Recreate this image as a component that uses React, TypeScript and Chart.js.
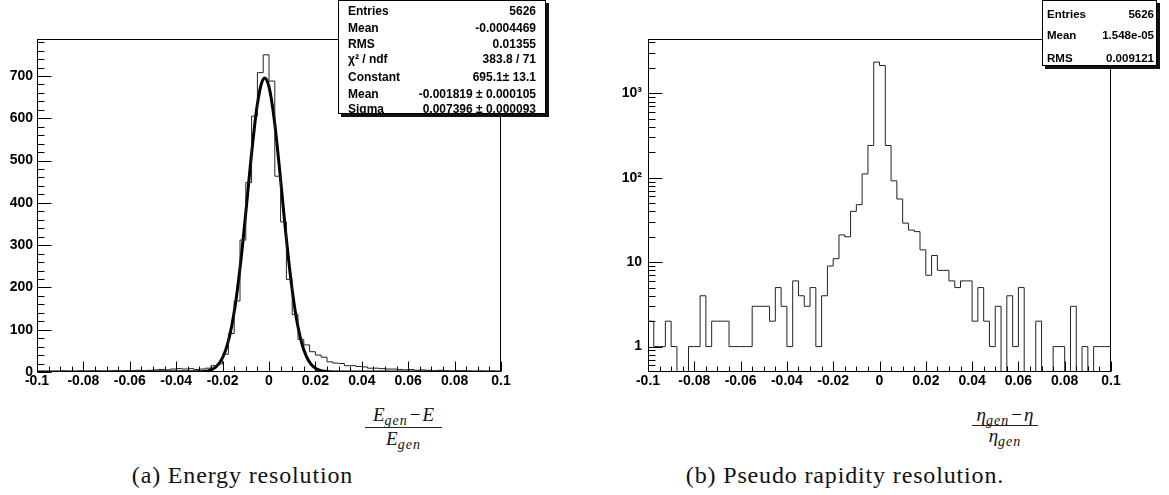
import React, { useEffect, useRef } from "react";
import { Chart, registerables } from "chart.js";

Chart.register(...registerables);

// ---------------- data ----------------
const binLow = -0.1;
const binWidth = 0.0025;

// (a) (E_gen - E)/E_gen, 80 bins in [-0.1, 0.1]
const energyCounts = [
  1, 0, 1, 1, 2, 1, 1, 2, 1, 2,
  2, 1, 2, 3, 2, 3, 3, 4, 3, 4,
  5, 6, 5, 7, 8, 7, 8, 6, 7, 9,
  15, 19, 42, 91, 168, 312, 448, 605, 708, 750,
  688, 463, 355, 219, 136, 77, 64, 48, 40, 35,
  24, 21, 20, 15, 15, 13, 12, 9, 9, 8,
  7, 7, 6, 5, 6, 4, 5, 4, 3, 4,
  3, 2, 3, 3, 2, 1, 2, 1, 2, 1,
];

// (b) (eta_gen - eta)/eta_gen, 80 bins in [-0.1, 0.1]
const etaCounts = [
  2, 1, 1, 2, 1, 0, 0, 1, 1, 4,
  1, 2, 2, 2, 1, 1, 1, 1, 3, 3,
  3, 2, 5, 3, 1, 6, 4, 3, 5, 1,
  4, 9, 11, 21, 20, 40, 48, 111, 241, 2344,
  2137, 241, 92, 56, 29, 24, 23, 14, 7, 12,
  8, 8, 6, 5, 6, 6, 2, 5, 2, 1,
  3, 0, 4, 1, 5, 0, 0, 2, 0, 0,
  1, 1, 0, 3, 0, 1, 0, 1, 1, 1,
];

// Gaussian fit curve
const fitX = [
  -0.1, -0.03, -0.028, -0.026, -0.024, -0.022, -0.02, -0.018, -0.016, -0.014,
  -0.012, -0.011, -0.01, -0.009, -0.008, -0.007, -0.006, -0.005, -0.004, -0.003,
  -0.001819, -0.001, 0, 0.001, 0.002, 0.003, 0.004, 0.005, 0.006, 0.007,
  0.008, 0.009, 0.01, 0.011, 0.012, 0.014, 0.016, 0.018, 0.02, 0.022,
  0.024, 0.026, 0.03, 0.1,
];
const fitY = [
  0, 0.5, 1.3, 3.3, 7.7, 16.8, 33.9, 63.5, 110.6, 179.1,
  269.5, 321.7, 377.0, 433.9, 490.2, 543.9, 592.5, 633.7, 665.5, 686.3,
  695.1, 690.9, 674.4, 646.4, 608.3, 562.2, 510.1, 454.5, 397.5, 341.4,
  288.0, 238.4, 193.9, 154.8, 121.3, 70.6, 38.2, 19.2, 9.0, 3.9,
  1.6, 0.6, 0.1, 0,
];

const xTickValues = [-0.1, -0.08, -0.06, -0.04, -0.02, 0, 0.02, 0.04, 0.06, 0.08, 0.1];
const xTickLabels = ["-0.1", "-0.08", "-0.06", "-0.04", "-0.02", "0", "0.02", "0.04", "0.06", "0.08", "0.1"];

const energyYTicks = [0, 100, 200, 300, 400, 500, 600, 700];
const energyYLabels = ["0", "100", "200", "300", "400", "500", "600", "700"];
const energyYMax = 787.5;

const etaYTicks = [1, 10, 100, 1000];
const etaYLabels = ["1", "10", "10\u00B2", "10\u00B3"];
const etaYMin = 0.5;
const etaYMax = 4400;

const energyStatLabels = ["Entries", "Mean", "RMS", "\u03C7\u00B2 / ndf", "Constant", "Mean", "Sigma"];
const energyStatValues = ["5626", "-0.0004469", "0.01355", "383.8 / 71", "695.1\u00B1 13.1", "-0.001819 \u00B1 0.000105", "0.007396 \u00B1 0.000093"];
const etaStatLabels = ["Entries", "Mean", "RMS"];
const etaStatValues = ["5626", "1.548e-05", "0.009121"];

// ---------------- helpers ----------------
const tickFont = { family: "'Liberation Sans', Arial, sans-serif", size: 14, weight: "bold" as const };

function histPoints(counts: number[], floor: number | null) {
  const pts = counts.map((c, i) => ({
    x: binLow + i * binWidth,
    y: floor === null ? c : Math.max(c, floor),
  }));
  const last = pts[pts.length - 1].y;
  pts.push({ x: binLow + counts.length * binWidth, y: last });
  return pts;
}

const linearMinor: number[] = [];
for (let v = 20; v < energyYMax; v += 20) if (v % 100 !== 0) linearMinor.push(v);
const logMinor: number[] = [];
for (let d = -1; d <= 3; d++) {
  for (let k = 2; k <= 9; k++) {
    const v = k * Math.pow(10, d);
    if (v > etaYMin && v < etaYMax) logMinor.push(v);
  }
}

const rootAxesPlugin = {
  id: "rootAxes",
  afterDatasetsDraw(chart: any, _args: any, opts: any) {
    const { ctx, chartArea: a, scales } = chart;
    const xs = scales.x;
    const ys = scales.y;
    const L = Math.round(a.left) + 0.5;
    const R = Math.round(a.right) - 0.5;
    const T = Math.round(a.top) + 0.5;
    const B = Math.round(a.bottom) - 0.5;
    ctx.save();
    ctx.strokeStyle = "#000";
    ctx.lineWidth = 1;
    ctx.strokeRect(L, T, R - L, B - T);
    ctx.beginPath();
    for (let i = 0; i <= 40; i++) {
      const v = binLow + i * 0.005;
      const px = Math.round(xs.getPixelForValue(v)) + 0.5;
      const len = i % 4 === 0 ? 10 : 5;
      ctx.moveTo(px, B);
      ctx.lineTo(px, B - len);
    }
    for (const v of opts.yMajor) {
      const py = Math.round(ys.getPixelForValue(v)) + 0.5;
      ctx.moveTo(L, py);
      ctx.lineTo(L + 14, py);
    }
    for (const v of opts.yMinor) {
      const py = Math.round(ys.getPixelForValue(v)) + 0.5;
      ctx.moveTo(L, py);
      ctx.lineTo(L + 7, py);
    }
    ctx.stroke();
    ctx.restore();
  },
};

function makeConfig(opts: {
  datasets: any[];
  yScale: any;
  yTicks: number[];
  yLabels: string[];
  yWidth: number;
  yPad: number;
  padRight: number;
  yMinor: number[];
}) {
  return {
    type: "line" as const,
    data: { datasets: opts.datasets },
    plugins: [rootAxesPlugin],
    options: {
      animation: false as const,
      responsive: false,
      maintainAspectRatio: false,
      devicePixelRatio: 1,
      layout: { padding: { left: 0, top: 39, right: opts.padRight, bottom: 0 } },
      plugins: {
        legend: { display: false },
        tooltip: { enabled: false },
        rootAxes: { yMajor: opts.yTicks, yMinor: opts.yMinor },
      },
      elements: { point: { radius: 0 } },
      scales: {
        x: {
          type: "linear" as const,
          min: -0.1,
          max: 0.1,
          grid: { display: false, drawTicks: false, tickLength: 0 },
          border: { display: false },
          afterBuildTicks: (s: any) => {
            s.ticks = xTickValues.map((v) => ({ value: v }));
          },
          afterFit: (s: any) => {
            s.height = 28;
            s.paddingLeft = 0;
            s.paddingRight = 0;
          },
          ticks: {
            autoSkip: false,
            maxRotation: 0,
            minRotation: 0,
            padding: 1,
            color: "#000",
            font: tickFont,
            callback: (_v: any, i: number) => xTickLabels[i],
          },
        },
        y: {
          ...opts.yScale,
          grid: { display: false, drawTicks: false, tickLength: 0 },
          border: { display: false },
          afterBuildTicks: (s: any) => {
            s.ticks = opts.yTicks.map((v) => ({ value: v }));
          },
          afterFit: (s: any) => {
            s.width = opts.yWidth;
            s.paddingTop = 0;
            s.paddingBottom = 0;
          },
          ticks: {
            autoSkip: false,
            padding: opts.yPad,
            color: "#000",
            font: tickFont,
            callback: (_v: any, i: number) => opts.yLabels[i],
          },
        },
      },
    },
  };
}

function StatsBox(props: {
  left: number;
  width: number;
  height: number;
  labels: string[];
  values: string[];
  rowY: number[];
  fontSize: number;
  padL: number;
  padR: number;
}) {
  const { left, width, height, labels, values, rowY, fontSize, padL, padR } = props;
  return (
    <div
      style={{
        position: "absolute",
        left,
        top: 0,
        width,
        height,
        boxSizing: "border-box",
        border: "1px solid #000",
        background: "#fff",
        boxShadow: "3px 3px 0 #111",
        fontFamily: "'Liberation Sans', Arial, sans-serif",
        fontWeight: "bold",
        fontSize,
        color: "#000",
      }}
    >
      {labels.map((lab, i) => (
        <div
          key={i}
          style={{
            position: "absolute",
            left: padL - 1,
            right: padR - 1,
            top: rowY[i] - 8,
            height: 16,
            lineHeight: "16px",
            display: "flex",
            justifyContent: "space-between",
            whiteSpace: "nowrap",
          }}
        >
          <span>{lab}</span>
          <span>{values[i]}</span>
        </div>
      ))}
    </div>
  );
}

const serif = "'Liberation Serif', 'Times New Roman', serif";

export default function App() {
  const leftRef = useRef<HTMLCanvasElement>(null);
  const rightRef = useRef<HTMLCanvasElement>(null);

  useEffect(() => {
    const leftCfg = makeConfig({
      datasets: [
        {
          data: histPoints(energyCounts, null),
          stepped: "before",
          borderColor: "#222",
          borderWidth: 1,
          pointRadius: 0,
          fill: false,
        },
        {
          data: fitX.map((x, i) => ({ x, y: fitY[i] })),
          borderColor: "#000",
          borderWidth: 3,
          pointRadius: 0,
          cubicInterpolationMode: "monotone",
          fill: false,
        },
      ],
      yScale: { type: "linear", min: 0, max: energyYMax },
      yTicks: energyYTicks,
      yLabels: energyYLabels,
      yWidth: 37,
      yPad: 4,
      padRight: 580 - 501,
      yMinor: linearMinor,
    });
    const rightCfg = makeConfig({
      datasets: [
        {
          data: histPoints(etaCounts, 0.3),
          stepped: "before",
          borderColor: "#222",
          borderWidth: 1,
          pointRadius: 0,
          fill: false,
        },
      ],
      yScale: { type: "logarithmic", min: etaYMin, max: etaYMax },
      yTicks: etaYTicks,
      yLabels: etaYLabels,
      yWidth: 648 - 580,
      yPad: 6,
      padRight: 1169 - 580 - (1111 - 580),
      yMinor: logMinor,
    });
    const c1 = new Chart(leftRef.current as HTMLCanvasElement, leftCfg as any);
    const c2 = new Chart(rightRef.current as HTMLCanvasElement, rightCfg as any);
    return () => {
      c1.destroy();
      c2.destroy();
    };
  }, []);

  const subStyle: React.CSSProperties = { fontSize: 14, position: "relative", top: 4, letterSpacing: 1 };

  return (
    <div
      style={{
        position: "fixed",
        left: 0,
        top: 0,
        width: 1169,
        height: 495,
        background: "#fff",
        overflow: "hidden",
      }}
    >
      <canvas
        ref={leftRef}
        width={580}
        height={400}
        style={{ position: "absolute", left: 0, top: 0, width: 580, height: 400 }}
      />
      <canvas
        ref={rightRef}
        width={589}
        height={400}
        style={{ position: "absolute", left: 580, top: 0, width: 589, height: 400 }}
      />

      <StatsBox
        left={338}
        width={208}
        height={114}
        labels={energyStatLabels}
        values={energyStatValues}
        rowY={[10, 26.7, 42.7, 58.3, 76, 92.7, 108.3]}
        fontSize={12}
        padL={10}
        padR={10}
      />
      <StatsBox
        left={1042}
        width={115}
        height={66}
        labels={etaStatLabels}
        values={etaStatValues}
        rowY={[13.3, 34, 56.7]}
        fontSize={11.5}
        padL={5}
        padR={3}
      />

      {/* x-axis title (a) */}
      <div
        style={{
          position: "absolute", left: 360, width: 87, top: 404.8, textAlign: "center",
          fontFamily: serif, fontStyle: "italic", fontSize: 19, lineHeight: "19px", color: "#111", whiteSpace: "nowrap",
        }}
      >
        E<span style={subStyle}>gen</span>
        <span style={{ fontStyle: "normal", margin: "0 2px" }}>{"\u2212"}</span>E
      </div>
      <div style={{ position: "absolute", left: 365, top: 427, width: 77, height: 1.4, background: "#222" }} />
      <div
        style={{
          position: "absolute", left: 360, width: 87, top: 429, textAlign: "center",
          fontFamily: serif, fontStyle: "italic", fontSize: 19, lineHeight: "19px", color: "#111", whiteSpace: "nowrap",
        }}
      >
        E<span style={subStyle}>gen</span>
      </div>

      {/* x-axis title (b) */}
      <div
        style={{
          position: "absolute", left: 962, width: 86, top: 405, textAlign: "center",
          fontFamily: serif, fontStyle: "italic", fontSize: 19, lineHeight: "19px", color: "#111", whiteSpace: "nowrap",
        }}
      >
        {"\u03B7"}<span style={subStyle}>gen</span>
        <span style={{ fontStyle: "normal", margin: "0 2px" }}>{"\u2212"}</span>{"\u03B7"}
      </div>
      <div style={{ position: "absolute", left: 972, top: 425, width: 66, height: 1.4, background: "#222" }} />
      <div
        style={{
          position: "absolute", left: 962, width: 86, top: 426, textAlign: "center",
          fontFamily: serif, fontStyle: "italic", fontSize: 19, lineHeight: "19px", color: "#111", whiteSpace: "nowrap",
        }}
      >
        {"\u03B7"}<span style={subStyle}>gen</span>
      </div>

      {/* captions */}
      <div
        style={{
          position: "absolute", left: 0, width: 485, top: 463, textAlign: "center",
          fontFamily: serif, fontSize: 24, lineHeight: "24px", letterSpacing: 0.85, color: "#111", whiteSpace: "nowrap",
        }}
      >
        (a) Energy resolution
      </div>
      <div
        style={{
          position: "absolute", left: 580, width: 530, top: 463, textAlign: "center",
          fontFamily: serif, fontSize: 24, lineHeight: "24px", letterSpacing: 0.85, color: "#111", whiteSpace: "nowrap",
        }}
      >
        (b) Pseudo rapidity resolution.
      </div>
    </div>
  );
}
